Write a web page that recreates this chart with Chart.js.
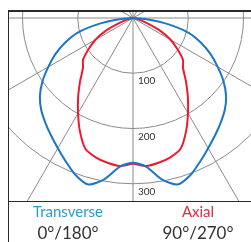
<!DOCTYPE html>
<html>
<head>
<meta charset="utf-8">
<script src="https://cdn.jsdelivr.net/npm/chart.js@4/dist/chart.umd.min.js"></script>
<style>
  html, body { margin:0; padding:0; background:#fff; width:251px; height:242px; overflow:hidden; }
  #clip { position:absolute; left:8px; top:11px; width:243px; height:190px; overflow:hidden; }
  #c { position:absolute; left:-96px; top:-214px; }
  .ln { position:absolute; background:#2a2a2a; }
  .lg { position:absolute; text-align:center; font-family:Lato, "Open Sans", sans-serif; white-space:nowrap; }
</style>
</head>
<body>
<div id="clip"><canvas id="c" width="442" height="442"></canvas></div>
<div class="ln" style="left:8px; top:10px; width:243px; height:1.5px;"></div>
<div class="ln" style="left:8px; top:200.5px; width:243px; height:1.5px;"></div>
<div class="ln" style="left:7.5px; top:10px; width:1.5px; height:232px;"></div>
<div class="lg" style="left:8px; top:204px; width:120px; font-size:15px; line-height:15px; color:#2b9ad0;">Transverse</div>
<div class="lg" style="left:148px; top:204px; width:100px; font-size:15px; line-height:15px; color:#e8283c;">Axial</div>
<div class="lg" style="left:8px; top:224px; width:120px; font-size:17px; line-height:17px; color:#333;">0°/180°</div>
<div class="lg" style="left:148px; top:224px; width:100px; font-size:17px; line-height:17px; color:#333;">90°/270°</div>
<script>
// Photometric angles (0° = straight down), 5° steps, 0..90
const gamma = [0,5,10,15,20,25,30,35,40,45,50,55,60,65,70,75,80,85,90];
// Intensity (cd) – Transverse (0°/180° plane)
const transverse = [262,270,296,312,303,287,272,259,247,235,220,200,177,155,131,105,64,22,0];
// Intensity (cd) – Axial (90°/270° plane)
const axial = [264,269,266,261,252,227,199,173,149,128,118,98,78,54,25,10,3,0,0];
// Ring tick labels
const ringTicks = [100, 200, 300];
const scaleMax = 400;

// Build full-circle radar data (index 0 points down, going clockwise)
const labels = [];
for (let i = 0; i < 72; i++) labels.push(String(i * 5));
function fullCircle(profile) {
  const out = [];
  for (let i = 0; i < 72; i++) {
    if (i <= 18) out.push(profile[i]);
    else if (i >= 54) out.push(profile[72 - i]);
    else out.push(null);
  }
  return out;
}

const ringLabels = {
  id: 'ringLabels',
  afterDraw(chart) {
    const s = chart.scales.r;
    const ctx = chart.ctx;
    ctx.save();
    ctx.font = '10px Lato, "Open Sans", sans-serif';
    ctx.fillStyle = '#333';
    ctx.textAlign = 'left';
    ctx.textBaseline = 'middle';
    ringTicks.forEach(v => {
      const d = s.getDistanceFromCenterForValue(v);
      ctx.fillText(String(v), s.xCenter + 5, s.yCenter + d + 8);
    });
    ctx.restore();
  }
};

new Chart(document.getElementById('c'), {
  type: 'radar',
  data: {
    labels: labels,
    datasets: [
      { label: 'Transverse', data: fullCircle(transverse), borderColor: '#1b76c6', borderWidth: 2, pointRadius: 0, fill: false, tension: 0.25, spanGaps: false },
      { label: 'Axial', data: fullCircle(axial), borderColor: '#ee1a30', borderWidth: 2, pointRadius: 0, fill: false, tension: 0.25, spanGaps: false }
    ]
  },
  options: {
    responsive: false,
    devicePixelRatio: 1,
    animation: false,
    layout: { padding: 0 },
    plugins: { legend: { display: false }, tooltip: { enabled: false } },
    scales: {
      r: {
        startAngle: 180,
        min: 0,
        max: scaleMax,
        ticks: { display: false, stepSize: 100 },
        pointLabels: { display: false },
        grid: {
          circular: true,
          color: (ctx) => (ctx.tick && ctx.tick.value >= scaleMax) ? 'rgba(0,0,0,0)' : '#8a8a8a',
          lineWidth: 1
        },
        angleLines: {
          display: true,
          color: (ctx) => (ctx.index % 6 === 0) ? '#8a8a8a' : 'rgba(0,0,0,0)',
          lineWidth: 1
        }
      }
    }
  },
  plugins: [ringLabels]
});
</script>
</body>
</html>
